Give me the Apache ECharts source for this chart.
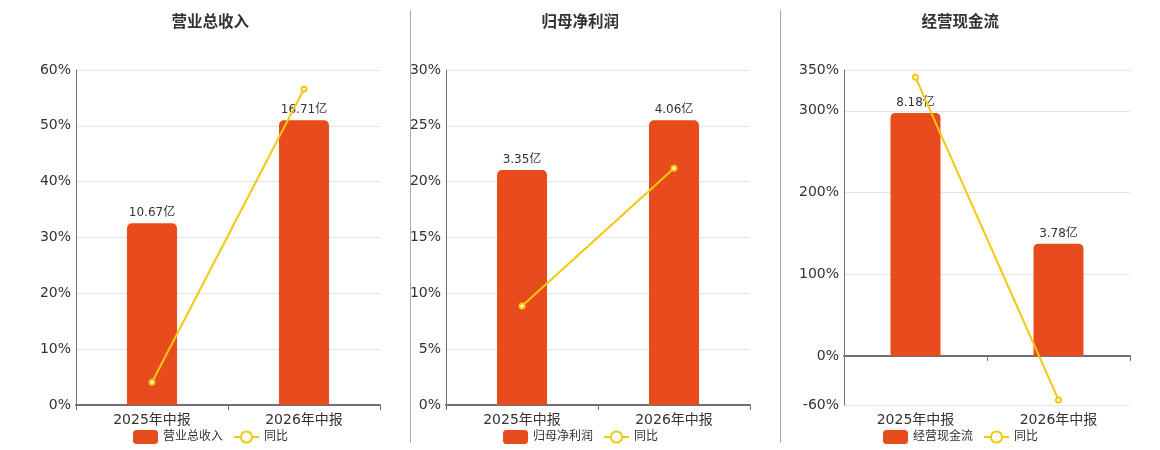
<!DOCTYPE html>
<html><head><meta charset="utf-8">
<script src="https://cdn.jsdelivr.net/npm/echarts@6/dist/echarts.min.js"></script>
<style>html,body{margin:0;padding:0;background:#fff}#c{width:1160px;height:450px}</style>
</head><body><div id="c"></div>
<script>
// ---- data ----
const categories = ['2025年中报', '2026年中报'];
const panelTitles = ['营业总收入', '归母净利润', '经营现金流'];
const revenueValues = [10.67, 16.71];
const revenueYoY = [4.07, 56.61];
const profitValues = [3.35, 4.06];
const profitYoY = [8.87, 21.2];
const cashValues = [8.18, 3.78];
const cashYoY = [341, -53.79];
const yoyName = '同比';
const unit = '亿';
// line (percent) axis ranges: [min, max, interval]
const pctAxisMin = [0, 0, -60];
const pctAxisMax = [60, 30, 350];
const pctAxisInterval = [10, 5, null];

// ---- layout / style ----
const FONT = 'DejaVu Sans, "Noto Sans CJK SC", sans-serif';
const BAR_COLOR = '#E84B1C';
const LINE_COLOR = '#F2C811';
const gridLeft = [76, 446, 844];
const gridWidth = [304, 304, 286];
const panelCenter = [210, 580, 960];
const GRID_TOP = 70, GRID_H = 335;

const barData = [revenueValues, profitValues, cashValues];
const yoyData = [revenueYoY, profitYoY, cashYoY];

const option = {
  animation: false,
  textStyle: { fontFamily: FONT },
  title: [], legend: [], grid: [], xAxis: [], yAxis: [], series: [],
  graphic: [
    { type: 'line', shape: { x1: 410.5, y1: 10, x2: 410.5, y2: 443 }, style: { stroke: '#aaa', lineWidth: 1 } },
    { type: 'line', shape: { x1: 780.5, y1: 10, x2: 780.5, y2: 443 }, style: { stroke: '#aaa', lineWidth: 1 } }
  ]
};

for (let i = 0; i < 3; i++) {
  option.title.push({
    text: panelTitles[i], left: panelCenter[i] - 38.5, top: 15, padding: 0,
    textStyle: { fontSize: 15.5, fontWeight: 'bold', color: '#333', fontFamily: FONT }
  });
  option.legend.push({
    data: [{ name: panelTitles[i], icon: 'roundRect' }, yoyName],
    left: panelCenter[i] - 77, top: 430, padding: 0, itemGap: 10,
    itemWidth: 25, itemHeight: 14,
    textStyle: { fontSize: 12, color: '#333', fontFamily: FONT }
  });
  option.grid.push({ left: gridLeft[i], width: gridWidth[i], top: GRID_TOP, height: GRID_H });

  const xIdx = option.xAxis.length;
  const neg = pctAxisMin[i] < 0;
  option.xAxis.push({
    type: 'category', gridIndex: i, data: categories,
    axisLine: { show: !neg, onZero: false, lineStyle: { color: '#6E7079', width: 2 } },
    axisTick: { show: !neg, lineStyle: { color: '#6E7079' } },
    axisLabel: { fontSize: 14, color: '#333', margin: 8, fontFamily: FONT }
  });
  if (neg) {
    option.xAxis.push({
      type: 'category', gridIndex: i, data: categories, position: 'bottom',
      axisLine: { show: true, onZero: true, lineStyle: { color: '#6E7079', width: 2 } },
      axisTick: { show: true, lineStyle: { color: '#6E7079' } },
      axisLabel: { show: false }
    });
  }

  const pctIdx = option.yAxis.length;
  const pctAxis = {
    type: 'value', gridIndex: i, min: pctAxisMin[i], max: pctAxisMax[i],
    axisLine: { show: true, lineStyle: { color: '#6E7079' } },
    axisTick: { show: false },
    axisLabel: { fontSize: 14, color: '#333', margin: 5, formatter: '{value}%', fontFamily: FONT },
    splitLine: { lineStyle: { color: '#E0E6F1' } }
  };
  if (pctAxisInterval[i] != null) pctAxis.interval = pctAxisInterval[i];
  option.yAxis.push(pctAxis);

  const barMax = Math.max.apply(null, barData[i]) / 0.85;
  const barMin = barMax * pctAxisMin[i] / pctAxisMax[i];
  const barIdx = option.yAxis.length;
  option.yAxis.push({ type: 'value', gridIndex: i, min: barMin, max: barMax, show: false, splitLine: { show: false } });

  option.series.push({
    name: panelTitles[i], type: 'bar', xAxisIndex: xIdx, yAxisIndex: barIdx,
    data: barData[i], barWidth: 50,
    itemStyle: { color: BAR_COLOR, borderRadius: [5, 5, 0, 0] },
    label: { show: true, position: 'top', distance: 4, fontSize: 12, color: '#333', fontFamily: FONT,
             formatter: p => p.value + unit }
  });
  option.series.push({
    name: yoyName, type: 'line', xAxisIndex: xIdx, yAxisIndex: pctIdx,
    data: yoyData[i], symbol: 'emptyCircle', symbolSize: 5,
    lineStyle: { color: LINE_COLOR, width: 2 }, itemStyle: { color: LINE_COLOR }
  });
}

const chart = echarts.init(document.getElementById('c'));
chart.setOption(option);
</script></body></html>
